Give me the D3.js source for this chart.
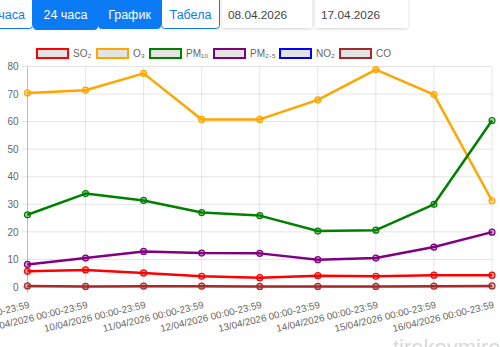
<!DOCTYPE html>
<html><head><meta charset="utf-8">
<script src="https://cdn.jsdelivr.net/npm/d3@7"></script>
<style>html,body{margin:0;padding:0;background:#fff;overflow:hidden}svg{display:block}</style>
</head><body>
<svg id="c" width="500" height="347"></svg>
<script>
const categories = ["08/04/2026 00:00-23:59","09/04/2026 00:00-23:59","10/04/2026 00:00-23:59","11/04/2026 00:00-23:59","12/04/2026 00:00-23:59","13/04/2026 00:00-23:59","14/04/2026 00:00-23:59","15/04/2026 00:00-23:59","16/04/2026 00:00-23:59"];
const so2  = [5.7, 6.2, 5.1, 3.9, 3.4, 4.1, 3.9, 4.3, 4.3];
const o3   = [70.4, 71.4, 77.5, 60.8, 60.8, 67.9, 78.9, 69.8, 31.3];
const pm10 = [26.2, 33.9, 31.4, 27.0, 25.9, 20.3, 20.6, 30.0, 60.4];
const pm25 = [8.2, 10.5, 12.9, 12.3, 12.2, 9.9, 10.5, 14.5, 19.9];
const no2  = [null, null, null, null, null, null, null, null, null];
const co   = [0.4, 0.2, 0.3, 0.3, 0.2, 0.2, 0.2, 0.3, 0.4];
const seriesNames = ["SO₂","O₃","PM₁₀","PM₂.₅","NO₂","CO"];
const seriesColors = ["#ff0000","#ffa500","#008000","#800080","#0000ff","#a52a2a"];
const yTicks = [0,10,20,30,40,50,60,70,80];
const buttons = ["часа","24 часа","График","Табела"];
const dates = ["08.04.2026","17.04.2026"];
const watermark = "tirekovmire.mk";

const seriesData = [so2, o3, pm10, pm25, no2, co];
const svg = d3.select("#c");
const FONT = "'Liberation Sans', Arial, Helvetica, sans-serif";

// ---- top controls ----
const blue = "#0b7bf5";
const btnGeom = [[-60,93],[33,65],[98,63],[161,59]];
const btnActive = [false,true,true,false];
const ctrl = svg.append("g");
buttons.forEach((b,i)=>{
  const [bx,w] = btnGeom[i];
  ctrl.append("rect").attr("x",bx+0.5).attr("y",-6).attr("width",w-1).attr("height",i===1?35.5:34.5)
    .attr("rx",3).attr("fill",btnActive[i]?blue:"#fff").attr("stroke",blue).attr("stroke-width",1);
  ctrl.append("text").attr("x", i===0 ? 25 : bx+w/2).attr("y",18.5)
    .attr("text-anchor", i===0?"end":"middle")
    .attr("font-family",FONT).attr("font-size",12.5)
    .attr("fill",btnActive[i]?"#fff":blue).text(b);
});
const defs = svg.append("defs");
const f = defs.append("filter").attr("id","sh").attr("x","-20%").attr("y","-50%").attr("width","140%").attr("height","200%");
f.append("feDropShadow").attr("dx",0).attr("dy",1).attr("stdDeviation",1.5).attr("flood-color","#000").attr("flood-opacity",0.18);
const dGeom = [[222,90],[315,93]];
dates.forEach((d,i)=>{
  const [dx,w]=dGeom[i];
  ctrl.append("rect").attr("x",dx).attr("y",-6).attr("width",w).attr("height",34).attr("rx",2)
    .attr("fill","#fff").attr("filter","url(#sh)");
  ctrl.append("text").attr("x",dx+6).attr("y",18.5).attr("font-family",FONT).attr("font-size",11.8)
    .attr("fill","#444").text(d);
});

// ---- chart ----
const x = d3.scalePoint().domain(categories).range([27.5, 492]);
const y = d3.scaleLinear().domain([0,80]).range([287, 66.5]);

const grid = svg.append("g");
grid.selectAll("line.h").data(yTicks).join("line")
  .attr("x1",22).attr("x2",492).attr("y1",d=>y(d)).attr("y2",d=>y(d))
  .attr("stroke", d=>d===0?"rgba(0,0,0,0.25)":"rgba(0,0,0,0.1)").attr("stroke-width",1);
grid.selectAll("line.v").data(categories).join("line")
  .attr("x1",d=>x(d)).attr("x2",d=>x(d)).attr("y1",y(80)).attr("y2",293)
  .attr("stroke",(d,i)=>i===0?"rgba(0,0,0,0.25)":"rgba(0,0,0,0.1)").attr("stroke-width",1);

const yAxis = d3.axisLeft(y).tickValues(yTicks).tickSize(0).tickPadding(9);
const yg = svg.append("g").attr("transform","translate(27.5,0)").call(yAxis);
yg.select(".domain").remove();
yg.selectAll("text").attr("font-family",FONT).attr("font-size",10).attr("fill","#666");

const xAxis = d3.axisBottom(x).tickSize(0).tickPadding(0);
const xg = svg.append("g").call(xAxis);
xg.select(".domain").remove();
xg.selectAll(".tick").attr("transform",d=>`translate(${x(d)+1},301)`);
xg.selectAll("text").attr("font-family",FONT).attr("font-size",9.8).attr("fill","#666")
  .attr("text-anchor","end").attr("y",0).attr("dy","0.71em").attr("transform","rotate(-13.5)");

// lines
const line = d3.line().defined(d=>d.v!=null).x(d=>x(d.c)).y(d=>y(d.v));
seriesData.forEach((arr,si)=>{
  const pts = arr.map((v,i)=>({c:categories[i],v}));
  const g = svg.append("g");
  g.append("path").datum(pts).attr("d",line).attr("fill","none")
    .attr("stroke",seriesColors[si]).attr("stroke-width",2.5).attr("stroke-linejoin","round");
  g.selectAll("circle").data(pts.filter(d=>d.v!=null)).join("circle")
    .attr("cx",d=>x(d.c)).attr("cy",d=>y(d.v)).attr("r",3)
    .attr("fill",seriesColors[si]).attr("fill-opacity",0.35)
    .attr("stroke",seriesColors[si]).attr("stroke-width",1.2);
});

// legend
const legX = [36,96,149,213,279,339];
const lg = svg.append("g");
seriesNames.forEach((n,i)=>{
  lg.append("rect").attr("x",legX[i]+1).attr("y",49).attr("width",31).attr("height",9)
    .attr("fill","#e3e3e3").attr("stroke",seriesColors[i]).attr("stroke-width",2);
  lg.append("text").attr("x",legX[i]+37).attr("y",57).attr("font-family",FONT).attr("font-size",10)
    .attr("fill","#666").text(n);
});

// watermark
svg.append("text").attr("x",393).attr("y",355).attr("font-family",FONT).attr("font-size",22)
  .attr("fill","#d9d9d9").text(watermark);
</script>
</body></html>
